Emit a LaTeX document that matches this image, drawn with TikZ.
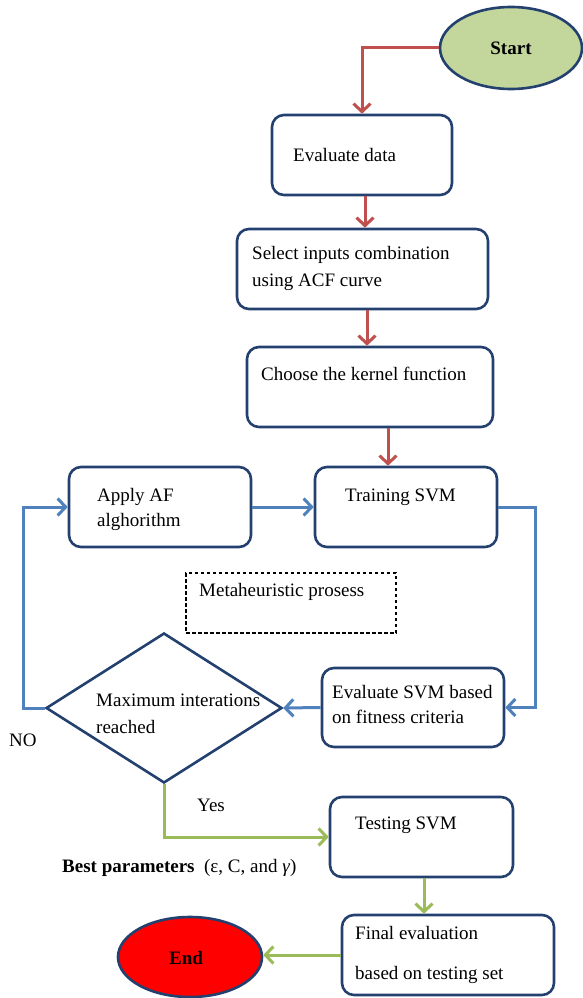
\documentclass[tikz,border=0pt]{standalone}
\usepackage{fontspec}
\setmainfont{Liberation Serif}
\usetikzlibrary{arrows.meta,shapes.geometric}
\definecolor{navy}{RGB}{35,64,110}
\definecolor{redc}{RGB}{192,80,77}
\definecolor{bluc}{RGB}{79,129,189}
\definecolor{grnc}{RGB}{155,187,89}
\definecolor{startfill}{RGB}{195,214,155}
\definecolor{endfill}{RGB}{255,0,0}
\begin{document}
\begin{tikzpicture}[x=1pt,y=-1pt,
  box/.style={draw=navy,line width=2.6pt,rounded corners=12pt,inner sep=0pt},
  oval/.style={draw=navy,line width=2.6pt,ellipse,inner sep=0pt},
  txt/.style={anchor=west,inner sep=0pt,font=\fontsize{19}{22}\selectfont},
  arrtip/.style={-{Straight Barb[length=8pt,width=17pt]}},
  redarr/.style={draw=redc,line width=3pt,arrtip},
  bluarr/.style={draw=bluc,line width=3pt,arrtip},
  grnarr/.style={draw=grnc,line width=3pt,arrtip}]
\useasboundingbox (0,0) rectangle (582,998);
% shapes
\node[oval,fill=startfill,minimum width=142pt,minimum height=82pt] (start) at (511,48) {};
\node[box,minimum width=180pt,minimum height=80pt] (eval) at (362,155) {};
\node[box,minimum width=251pt,minimum height=80pt] (select) at (362.5,269) {};
\node[box,minimum width=246pt,minimum height=80pt] (kernel) at (370,387) {};
\node[box,minimum width=182pt,minimum height=80pt] (apply) at (160,507) {};
\node[box,minimum width=182pt,minimum height=80pt] (train) at (406,507) {};
\node[draw=black,line width=1.3pt,dash pattern=on 3.5pt off 2.5pt,minimum width=210pt,minimum height=60pt,inner sep=0pt] (meta) at (291,603) {};
\node[draw=navy,line width=2.6pt,diamond,minimum width=236pt,minimum height=150pt,inner sep=0pt] (dia) at (164,708) {};
\node[box,minimum width=182pt,minimum height=79pt] (evalsvm) at (413,707.5) {};
\node[box,minimum width=183pt,minimum height=80pt] (test) at (421.5,837) {};
\node[box,minimum width=212pt,minimum height=80pt] (final) at (448,955) {};
\node[oval,fill=endfill,minimum width=144pt,minimum height=80pt] (end) at (190,957) {};
% texts
\node[inner sep=0pt,font=\fontsize{19}{22}\selectfont\bfseries] (tstart) at (511,48) {Start};
\node[inner sep=0pt,font=\fontsize{19}{22}\selectfont\bfseries] (tend) at (186,958) {End};
\node[txt] (t1) at (293,155) {Evaluate data};
\node[txt] (t2a) at (252,255) {Select inputs combination};
\node[txt] (t2b) at (252,282) {using ACF curve};
\node[txt] (t3) at (261,374) {Choose the kernel function};
\node[txt] (t4a) at (97,497) {Apply AF};
\node[txt] (t4b) at (97,522) {alghorithm};
\node[txt] (t5) at (345,497) {Training SVM};
\node[txt] (t6) at (199,592) {Metaheuristic prosess};
\node[txt] (t7a) at (96,700) {Maximum interations};
\node[txt] (t7b) at (96,727) {reached};
\node[txt] (t8a) at (332,692) {Evaluate SVM based};
\node[txt] (t8b) at (332,717) {on fitness criteria};
\node[txt] (tno) at (9,740) {NO};
\node[txt] (tyes) at (197,805) {Yes};
\node[txt] (t9) at (355,825) {Testing SVM};
\node[txt] (tbest) at (62,868) {\textbf{Best parameters}\ \ (ε, C, and \textit{γ})};
\node[txt] (t10a) at (355,933) {Final evaluation};
\node[txt] (t10b) at (355,975) {based on testing set};
% connectors
\draw[redarr] (start.west) -| (eval.north);
\draw[redarr] ([xshift=3pt]eval.south) -- ([xshift=3pt]eval.south |- select.north);
\draw[redarr] ([xshift=4.5pt]select.south) -- ([xshift=4.5pt]select.south |- kernel.north);
\draw[redarr] ([xshift=18pt]kernel.south) -- ([xshift=18pt]kernel.south |- train.north);
\draw[bluarr] (apply.east) -- (train.west);
\draw[bluarr] (train.east) -- ++(37,0) |- (evalsvm.east);
\draw[bluarr] (evalsvm.west) -- (dia.east);
\draw[bluarr] (dia.west) -- ++(-21,0) |- (apply.west);
\draw[grnarr] (dia.south) |- (test.west);
\draw[grnarr] ([xshift=2.5pt]test.south) -- ([xshift=2.5pt]test.south |- final.north);
\draw[grnarr] (final.west) -- (final.west -| end.east);
\end{tikzpicture}
\end{document}
